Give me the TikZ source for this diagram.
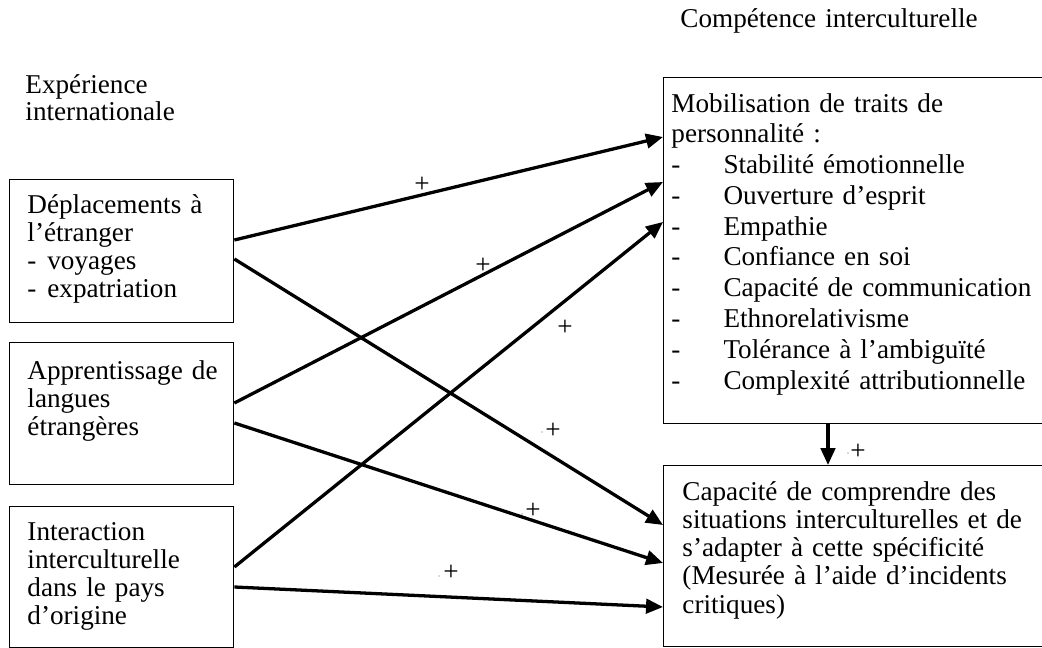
\documentclass[tikz,border=0pt]{standalone}
\usepackage{fontspec}
\setmainfont{Liberation Serif}
\usetikzlibrary{arrows.meta,calc}
\newlength\pxu
\setlength\pxu{0.4417pt}
\tikzset{
  frame/.style={draw, line width=0.6pt, inner sep=0pt, anchor=north west},
  txt/.style={anchor=base west, inner sep=0pt, align=left, text width=#1,
    font=\fontsize{12pt}{12.5pt}\selectfont},
  txtm/.style={anchor=base west, inner sep=0pt, align=left, text width=#1,
    font=\fontsize{12pt}{13.6pt}\selectfont},
  conn/.style={line width=1.45pt, -{Triangle[length=7.5pt,width=6.4pt]}},
  plus/.style={inner sep=0pt, font=\fontsize{12pt}{12pt}\selectfont},
  speck/.style={fill=gray!60}
}
\newcommand{\itm}{\makebox[23pt][l]{-}}
\begin{document}
\begin{tikzpicture}[x=\pxu, y=-\pxu]
\clip (0,0) rectangle (1042,648);

% headings
\node[txt=300\pxu] (title) at (680,28) {Compétence interculturelle};
\node[anchor=base west, inner sep=0pt, align=left, text width=200\pxu,
  font=\fontsize{12pt}{12.2pt}\selectfont] (exp) at (25,93) {Expérience\\internationale};

% left boxes
\node[frame, minimum width=224\pxu, minimum height=143\pxu] (b1) at (9,179) {};
\node[frame, minimum width=224\pxu, minimum height=142\pxu] (b2) at (9,342) {};
\node[frame, minimum width=224\pxu, minimum height=141\pxu] (b3) at (9,506) {};
\node[txt=200\pxu] (t1) at (27,213) {Déplacements à\\l’étranger\\\makebox[8.8pt][l]{-}voyages\\\makebox[8.8pt][l]{-}expatriation};
\node[txt=200\pxu] (t2) at (27,379) {Apprentissage de\\langues\\étrangères};
\node[txt=200\pxu] (t3) at (27,540) {Interaction\\interculturelle\\dans le pays\\d’origine};

% right boxes (their right side runs past the edge of the picture)
\node[frame, minimum width=386\pxu, minimum height=346\pxu] (m) at (663,77) {};
\node[frame, minimum width=386\pxu, minimum height=181\pxu] (c) at (663,465) {};
\node[txtm=370\pxu] (tm) at (671,112) {Mobilisation de traits de\\personnalité :\\
  \itm Stabilité émotionnelle\\
  \itm Ouverture d’esprit\\
  \itm Empathie\\
  \itm Confiance en soi\\
  \itm Capacité de communication\\
  \itm Ethnorelativisme\\
  \itm Tolérance à l’ambiguïté\\
  \itm Complexité attributionnelle};
\node[txt=355\pxu] (tc) at (682,500) {Capacité de comprendre des\\situations interculturelles et de\\s’adapter à cette spécificité\\(Mesurée à l’aide d’incidents\\critiques)};

% connectors
\draw[conn] ($(b1.north east)+(0,61)$) -- ($(m.north west)+(0,60)$);
\draw[conn] ($(b1.north east)+(0,80)$) -- ($(c.north west)+(0,60)$);
\draw[conn] ($(b2.north east)+(0,61)$) -- ($(m.north west)+(0,105)$);
\draw[conn] ($(b2.north east)+(0,81)$) -- ($(c.north west)+(0,98)$);
\draw[conn] ($(b3.north east)+(0,61)$) -- ($(m.north west)+(0,145)$);
\draw[conn] ($(b3.north east)+(0,81)$) -- ($(c.north west)+(0,142)$);
\draw[conn] ($(m.south west)+(165,0)$) -- ($(c.north west)+(165,0)$);

% labels
\node[plus] (pA) at (422,185) {+};
\node[plus] (pB) at (483,266) {+};
\node[plus] (pC) at (565,328) {+};
\node[plus] (pD) at (553,431) {+};
\node[plus] (pE) at (533,511) {+};
\node[plus] (pF) at (451,573) {+};
\node[plus] (pG) at (858,452) {+};
\fill[speck] (542,432) circle (0.9);
\fill[speck] (522,514) circle (0.9);
\fill[speck] (439,576) circle (0.9);
\fill[speck] (848,453) circle (0.9);
\end{tikzpicture}
\end{document}
